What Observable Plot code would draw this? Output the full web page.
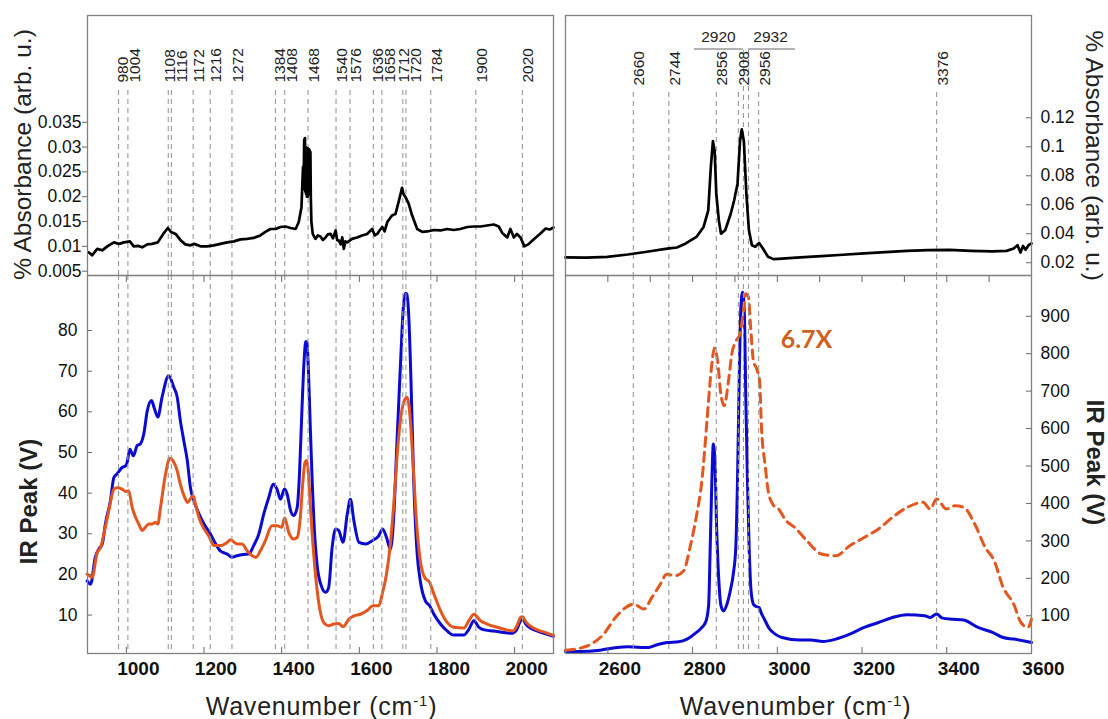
<!DOCTYPE html>
<html><head><meta charset="utf-8">
<script src="https://cdn.jsdelivr.net/npm/d3@7"></script>
<script src="https://cdn.jsdelivr.net/npm/@observablehq/plot@0.6"></script>
<style>
body{margin:0;background:#fff;}
#wrap{position:relative;width:1108px;height:719px;overflow:hidden;font-family:"Liberation Sans",Arial,sans-serif;}
#wrap svg{position:absolute;overflow:visible;}
</style></head><body><div id="wrap"></div>
<script>
// ---------------- data ----------------
const peaksLeft = [980,1004,1108,1116,1172,1216,1272,1384,1408,1468,1540,1576,1636,1658,1712,1720,1784,1900,2020];
const peaksRight = [2660,2744,2856,2908,2920,2932,2956,3376];
const peaksRightBarred = [2920,2932];

const xTicksLeft = [1000,1200,1400,1600,1800,2000];
const xTicksLeftTop = [1000,1200,1400,1600,1800,2000];
const xTicksRight = [2600,2800,3000,3200,3400,3600];
const xTicksRightTop = [2600,2700,2800,2900,3000,3100,3200,3300,3400,3500];
const yTicksAbsLeft = [0.005,0.01,0.015,0.02,0.025,0.03,0.035];
const yTicksAbsRight = [0.02,0.04,0.06,0.08,0.1,0.12];
const yTicksIrLeft = [10,20,30,40,50,60,70,80];
const yTicksIrRight = [100,200,300,400,500,600,700,800,900];

// top-left absorbance (black)
const absLeft = [[903,0.0088],[912,0.0082],[925,0.0095],[938,0.0092],[951,0.0100],[968,0.0108],[981,0.0105],[994,0.0108],[1009,0.0110],[1019,0.0100],[1030,0.0101],[1041,0.0098],[1054,0.0104],[1066,0.0105],[1081,0.0108],[1095,0.0125],[1107,0.0137],[1115,0.0129],[1127,0.0125],[1140,0.0112],[1152,0.0104],[1165,0.0102],[1175,0.0105],[1191,0.0100],[1208,0.0100],[1225,0.0102],[1242,0.0105],[1260,0.0108],[1277,0.0110],[1294,0.0114],[1311,0.0115],[1328,0.0117],[1345,0.0122],[1358,0.0129],[1371,0.0135],[1384,0.0135],[1397,0.0139],[1410,0.0140],[1423,0.0137],[1436,0.0135],[1444,0.0149],[1451,0.0179],[1455,0.026],[1456.5,0.0215],[1458,0.0315],[1459,0.022],[1460,0.0318],[1461,0.021],[1462,0.030],[1463,0.0205],[1464,0.0296],[1465,0.020],[1466,0.0298],[1467,0.0200],[1468,0.0297],[1469,0.0205],[1470,0.0296],[1471,0.021],[1472,0.0294],[1473,0.022],[1474,0.029],[1475,0.020],[1476.5,0.015],[1480,0.0125],[1487,0.0115],[1493,0.0122],[1500,0.0120],[1506,0.0113],[1513,0.0118],[1519,0.0124],[1526,0.0125],[1532,0.0116],[1539,0.0132],[1543,0.0112],[1547,0.0112],[1552,0.0104],[1556,0.0118],[1560,0.0095],[1564,0.0110],[1569,0.0108],[1581,0.0115],[1594,0.0118],[1607,0.0122],[1620,0.0125],[1633,0.0135],[1640,0.0122],[1646,0.0125],[1652,0.0132],[1659,0.0139],[1665,0.0130],[1672,0.0149],[1684,0.0162],[1693,0.0165],[1702,0.0192],[1710,0.0218],[1714,0.0205],[1719,0.0199],[1727,0.0186],[1736,0.0162],[1749,0.0135],[1762,0.0129],[1775,0.0130],[1792,0.0133],[1809,0.0132],[1826,0.0135],[1843,0.0133],[1860,0.0135],[1878,0.0139],[1895,0.0140],[1912,0.0140],[1929,0.0142],[1946,0.0144],[1959,0.0140],[1968,0.0127],[1981,0.0118],[1989,0.0135],[1998,0.0118],[2006,0.0125],[2015,0.0118],[2025,0.0100],[2035,0.0104],[2050,0.0115],[2065,0.0125],[2080,0.0136],[2090,0.0134],[2100,0.0138]];

// top-right absorbance (black)
const absRight = [[2500,0.0237],[2549,0.0236],[2599,0.0241],[2647,0.0257],[2692,0.0276],[2740,0.0298],[2763,0.0305],[2784,0.0333],[2809,0.0378],[2826,0.0447],[2837,0.0561],[2843,0.0858],[2848,0.1040],[2852,0.0972],[2856,0.0675],[2862,0.0492],[2867,0.0401],[2877,0.0424],[2890,0.0538],[2898,0.0629],[2906,0.0744],[2912,0.1040],[2916,0.1120],[2921,0.1040],[2927,0.0675],[2933,0.0424],[2940,0.0321],[2948,0.0310],[2957,0.0337],[2966,0.0298],[2978,0.0241],[2991,0.0225],[3011,0.0229],[3054,0.0237],[3104,0.0246],[3155,0.0255],[3205,0.0264],[3255,0.0273],[3306,0.0282],[3356,0.0287],[3407,0.0289],[3457,0.0282],[3508,0.0278],[3541,0.0282],[3558,0.0298],[3567,0.0321],[3574,0.027],[3580,0.0316],[3586,0.029],[3593,0.0321],[3600,0.0333]];

// bottom-left IR peak, blue
const irLeftBlue = [[899,18.4],[908,17.6],[920,24.2],[929,26.2],[938,27.5],[946,32.4],[959,38.1],[968,43.9],[976,44.7],[989,46.3],[998,46.7],[1002,47.5],[1009,50.8],[1018,49.2],[1028,51.7],[1036,52.1],[1045,54.6],[1054,60.3],[1065,62.8],[1071,61.2],[1081,58.7],[1092,63.6],[1109,68.9],[1122,66.1],[1131,63.6],[1139,57.9],[1148,52.9],[1157,48.0],[1165,41.4],[1174,38.1],[1187,34.9],[1200,32.4],[1217,29.9],[1230,27.5],[1242,25.8],[1260,25.0],[1272,24.2],[1285,24.6],[1302,24.9],[1315,25.0],[1328,27.1],[1341,29.9],[1354,34.9],[1367,39.0],[1378,42.2],[1388,41.0],[1397,38.5],[1407,41.0],[1414,39.8],[1423,35.7],[1431,34.5],[1440,36.5],[1446,45],[1452,60],[1458,73],[1462,77.3],[1465,77.0],[1469,70],[1474,55.4],[1479,42],[1483,33.2],[1491,22.5],[1502,17.2],[1513,15.6],[1521,16.8],[1530,26.7],[1539,31.2],[1547,30.8],[1558,27.9],[1569,34.9],[1577,38.5],[1586,33.2],[1599,27.9],[1616,27.5],[1633,28.3],[1650,29.5],[1660,31.2],[1670,29.1],[1680,26.2],[1689,34.9],[1697,52.9],[1706,71.8],[1714,86.6],[1719,89.2],[1722,89.0],[1727,84.1],[1733,67.7],[1740,43.1],[1749,25.0],[1757,18.4],[1770,13.5],[1781,12.3],[1792,10.2],[1809,7.8],[1826,6.1],[1843,5.1],[1869,5.1],[1882,6.5],[1895,8.6],[1908,7.0],[1925,6.3],[1946,6.1],[1972,5.7],[1993,5.5],[2006,6.5],[2015,8.6],[2020,9.0],[2030,7.6],[2045,6.6],[2060,6.0],[2080,5.4],[2100,4.8]];

// bottom-left IR peak, orange
const irLeftOrange = [[899,20.1],[912,19.3],[925,25.4],[934,26.7],[942,29.9],[955,35.7],[968,41.0],[976,41.3],[989,41.0],[998,40.4],[1006,40.6],[1015,36.5],[1024,34.0],[1032,32.4],[1041,30.8],[1049,31.6],[1058,32.4],[1066,32.4],[1075,32.8],[1081,32.4],[1088,36.5],[1101,44.7],[1112,48.6],[1120,48.0],[1131,45.5],[1139,42.2],[1150,39.0],[1158,37.7],[1165,38.6],[1172,39.4],[1178,37.3],[1187,34.0],[1200,31.2],[1212,29.5],[1225,27.1],[1242,27.1],[1260,27.9],[1268,28.5],[1285,27.5],[1298,27.5],[1311,25.8],[1324,24.6],[1334,24.2],[1345,25.8],[1358,28.3],[1375,32.0],[1388,32.0],[1400,31.6],[1408,33.9],[1418,30.4],[1431,28.7],[1440,29.1],[1448,34],[1454,42],[1460,47.5],[1464,48.0],[1468,46],[1472,40],[1478,30.8],[1487,20.1],[1496,12.7],[1508,8.2],[1521,7.4],[1534,7.8],[1547,7.9],[1558,7.1],[1573,9.0],[1586,9.8],[1603,10.2],[1620,11.1],[1635,12.3],[1650,12.3],[1659,15.2],[1670,20.1],[1680,27.5],[1690,39.0],[1699,51.3],[1708,59.5],[1716,62.8],[1723,63.6],[1730,59.5],[1739,46.3],[1747,33.2],[1757,23.4],[1768,19.3],[1781,18.0],[1792,15.2],[1809,11.1],[1826,8.2],[1843,7.0],[1869,6.8],[1882,8.6],[1895,10.2],[1912,8.6],[1929,7.8],[1955,7.0],[1981,6.3],[1996,6.1],[2006,7.4],[2015,9.4],[2020,9.6],[2030,8.2],[2045,7.0],[2060,6.3],[2080,5.7],[2100,5.0]];

// bottom-right IR peak, blue
const irRightBlue = [[2500,4.7],[2535,4.7],[2582,8.2],[2622,15.4],[2646,17.2],[2677,15.4],[2696,15.4],[2716,22.5],[2740,28.7],[2767,30.5],[2787,37.6],[2806,52.8],[2822,68.8],[2832,86.6],[2838,131],[2841.6,283],[2845.5,461],[2849,559],[2852.6,514],[2857,327],[2862,193],[2867,127],[2873,113],[2881,131],[2889,167],[2896,211],[2902,283],[2906,461],[2910,728],[2914,924],[2918,964],[2922,915],[2925.6,683],[2929.5,461],[2933.5,283],[2938,167],[2943.6,131],[2950,125],[2957,122],[2963,105],[2969,92],[2982,64.4],[2995,51],[3011,42],[3054,35],[3079,35],[3108,31.4],[3138,37.7],[3171,51],[3205,68.8],[3239,82.1],[3272,95.5],[3306,102.7],[3348,100],[3361,95.5],[3376,104.5],[3390,93.7],[3415,91],[3440,88.5],[3474,68.8],[3508,55.4],[3533,42],[3558,37.7],[3600,28.7]];

// bottom-right IR peak, orange (x6.7)
const irRightOrange = [[2500,8.2],[2535,13.6],[2567,28.7],[2590,51],[2618,95.5],[2637,117.8],[2661,131],[2685,117.8],[2704,149],[2724,184.6],[2739,211],[2759,207],[2779,220],[2794,283],[2810,372],[2822,461],[2834,621],[2841.6,728],[2852,815],[2859,781],[2866.7,692],[2874.6,661],[2884.8,728],[2892.6,799],[2903,835],[2912,853],[2920,915],[2925.6,960],[2932,951],[2937,871],[2943.6,781],[2951.5,759],[2958,728],[2963,594],[2971,505],[2979,430],[2991,395],[3003,385],[3020,355],[3041,336],[3070,300],[3104,265],[3138,260],[3171,287],[3205,309],[3239,332],[3272,363],[3306,389],[3344,403],[3361,385],[3376,412],[3399,385],[3420,394],[3441,389],[3466,345],[3491,282],[3512,247],[3533,176],[3558,131],[3575,82],[3592,69],[3600,91]];

// ---------------- layout / style ----------------
const FONT = '"Liberation Sans", Arial, sans-serif';
const BLUE = "#0a0ad2", ORANGE = "#e4561e", GRID = "#9a9a9a", FRAME = "#808080", TICK = "#666";
const frameW = 466, topH = 260, botH = 378;
const wrap = document.getElementById("wrap");

function place(svg, left, top) {
  svg.style.left = left + "px";
  svg.style.top = top + "px";
  wrap.appendChild(svg);
  return svg;
}
function spread(vals, k, minPx) {
  const p = vals.map(v => v * k);
  for (let it = 0; it < 200; it++) {
    for (let i = 1; i < p.length; i++) {
      const g = p[i] - p[i - 1];
      if (g < minPx) { const d = (minPx - g) / 2; p[i - 1] -= d; p[i] += d; }
    }
  }
  return p.map(x => x / k);
}
const styleBase = {background: "transparent", overflow: "visible", fontFamily: FONT, color: "#111"};
const X = d => d[0], Y = d => d[1];
const fmt = d => String(d);
const dash = {stroke: GRID, strokeDasharray: "5,4", strokeWidth: 1.1};

// ---- top-left
const kL = frameW / 1200;
const lblL = spread(peaksLeft, kL, 12).map((x, i) => ({x, t: String(peaksLeft[i])}));
place(Plot.plot({
  width: 560, height: 275, marginLeft: 87, marginRight: 7, marginTop: 15, marginBottom: 0,
  x: {domain: [900, 2100]}, y: {domain: [0.00413, 0.0565]},
  style: styleBase,
  marks: [
    Plot.ruleX(peaksLeft, {...dash, insetTop: 75}),
    Plot.line(absLeft, {x: X, y: Y, stroke: "#000", strokeWidth: 2.7, strokeLinejoin: "round"}),
    Plot.text(lblL, {x: "x", text: "t", frameAnchor: "top", rotate: -90, textAnchor: "start", dy: 67, fontSize: 15.5, fill: "#222"}),
    Plot.axisY({ticks: yTicksAbsLeft, anchor: "left", tickSize: 5, tickPadding: 1, fontSize: 17.5, tickFormat: fmt, stroke: TICK, label: null}),
    Plot.axisX({ticks: xTicksLeftTop, anchor: "bottom", tickSize: 7, tickFormat: () => "", stroke: TICK, label: null}),
    Plot.frame({stroke: FRAME, strokeWidth: 1.3}),
    Plot.text(["% Absorbance (arb. u.)"], {frameAnchor: "left", rotate: -90, textAnchor: "middle", dx: -64, dy: 9, fontSize: 24.5, fill: "#222"})
  ]
}), 0, 0);

// ---- bottom-left
place(Plot.plot({
  width: 560, height: 444, marginLeft: 87, marginRight: 7, marginTop: 0, marginBottom: 66,
  x: {domain: [900, 2100]}, y: {domain: [0.545, 93.54]},
  style: styleBase,
  marks: [
    Plot.line(irLeftBlue, {x: X, y: Y, stroke: BLUE, strokeWidth: 3, curve: "monotone-x"}),
    Plot.line(irLeftOrange, {x: X, y: Y, stroke: ORANGE, strokeWidth: 3, curve: "monotone-x"}),
    Plot.ruleX(peaksLeft, dash),
    Plot.tickX(xTicksLeft, {x: d => d, insetTop: botH - 6, stroke: TICK}),
    Plot.tickY(yTicksIrLeft, {y: d => d, insetRight: frameW - 5, stroke: TICK}),
    Plot.axisY({ticks: yTicksIrLeft, anchor: "left", tickSize: 0, tickPadding: 10, fontSize: 17.5, tickFormat: fmt, label: null}),
    Plot.axisX({ticks: xTicksLeft, anchor: "bottom", tickSize: 0, tickPadding: 8, dx: 12, fontSize: 19, fontWeight: "bold", tickFormat: fmt, label: null}),
    Plot.frame({stroke: FRAME, strokeWidth: 1.3}),
    Plot.text(["IR Peak (V)"], {frameAnchor: "left", rotate: -90, textAnchor: "middle", dx: -58, dy: 37, fontSize: 24, fontWeight: "bold", fill: "#222"}),
    Plot.text(["Wavenumber (cm-1)"], {frameAnchor: "bottom", textAnchor: "middle", lineAnchor: "middle", dy: 53, dx: 1, fontSize: 25, fill: "#222"})
  ]
}), 0, 275);

// ---- top-right
const rotR = peaksRight.filter(d => !peaksRightBarred.includes(d));
place(Plot.plot({
  width: 548, height: 275, marginLeft: 5, marginRight: 77, marginTop: 15, marginBottom: 0,
  x: {domain: [2500, 3600]}, y: {domain: [0.0112, 0.1906]},
  style: styleBase,
  marks: [
    Plot.ruleX(rotR, {...dash, insetTop: 77}),
    Plot.ruleX(peaksRightBarred, {...dash, insetTop: 35}),
    Plot.line(absRight, {x: X, y: Y, stroke: "#000", strokeWidth: 2.7, strokeLinejoin: "round"}),
    Plot.text(rotR, {x: d => d, text: d => String(d), frameAnchor: "top", rotate: -90, textAnchor: "start", dy: 70, fontSize: 15.5, fill: "#222"}),
    Plot.text([peaksRightBarred[0]], {x: d => d, text: d => String(d), frameAnchor: "top", textAnchor: "middle", dx: -25, dy: 22, lineAnchor: "middle", fontSize: 15.5, fill: "#222"}),
    Plot.text([peaksRightBarred[1]], {x: d => d, text: d => String(d), frameAnchor: "top", textAnchor: "middle", dx: 22, dy: 22, lineAnchor: "middle", fontSize: 15.5, fill: "#222"}),
    Plot.ruleY([0.1906], {x1: peaksRightBarred[0], x2: peaksRightBarred[0], insetLeft: -49, dy: 33.5, stroke: "#999", strokeWidth: 1.6}),
    Plot.ruleY([0.1906], {x1: peaksRightBarred[1], x2: peaksRightBarred[1], insetRight: -47, dy: 33.5, stroke: "#999", strokeWidth: 1.6}),
    Plot.tickY(yTicksAbsRight, {y: d => d, insetLeft: frameW - 5, stroke: TICK}),
    Plot.axisY({ticks: yTicksAbsRight, anchor: "right", tickSize: 0, tickPadding: 9, fontSize: 17.5, tickFormat: fmt, label: null}),
    Plot.axisX({ticks: xTicksRightTop, anchor: "bottom", tickSize: 7, tickFormat: () => "", stroke: TICK, label: null}),
    Plot.frame({stroke: FRAME, strokeWidth: 1.3}),
    Plot.text(["% Absorbance (arb. u.)"], {frameAnchor: "right", rotate: 90, textAnchor: "middle", dx: 62, dy: 10, fontSize: 24.5, fill: "#222"})
  ]
}), 560, 0);

// ---- bottom-right
place(Plot.plot({
  width: 548, height: 444, marginLeft: 5, marginRight: 77, marginTop: 0, marginBottom: 66,
  x: {domain: [2500, 3600]}, y: {domain: [-0.75, 1008.8]},
  style: styleBase,
  marks: [
    Plot.line(irRightBlue, {x: X, y: Y, stroke: BLUE, strokeWidth: 3, curve: "monotone-x"}),
    Plot.line(irRightOrange, {x: X, y: Y, stroke: ORANGE, strokeWidth: 3, strokeDasharray: "9,6", curve: "monotone-x"}),
    Plot.ruleX(peaksRight, dash),
    Plot.tickX(xTicksRight.slice(0, -1), {x: d => d, insetTop: botH - 6, stroke: TICK}),
    Plot.tickY(yTicksIrRight, {y: d => d, insetLeft: frameW - 5, stroke: TICK}),
    Plot.axisY({ticks: yTicksIrRight, anchor: "right", tickSize: 0, tickPadding: 9, fontSize: 17.5, tickFormat: fmt, label: null}),
    Plot.axisX({ticks: xTicksRight, anchor: "bottom", tickSize: 0, tickPadding: 8, dx: 12, fontSize: 19, fontWeight: "bold", tickFormat: fmt, label: null}),
    Plot.frame({stroke: FRAME, strokeWidth: 1.3}),
    Plot.text(["6.7X"], {frameAnchor: "top-left", dx: 241, dy: 64, textAnchor: "middle", lineAnchor: "middle", fontSize: 25, fontWeight: "bold", fontFamily: "Lato, 'Open Sans', sans-serif", fill: "#d0601f"}),
    Plot.text(["IR Peak (V)"], {frameAnchor: "right", rotate: 90, textAnchor: "middle", dx: 63, dy: -2, fontSize: 24, fontWeight: "bold", fill: "#222"}),
    Plot.text(["Wavenumber (cm-1)"], {frameAnchor: "bottom", textAnchor: "middle", lineAnchor: "middle", dy: 53, dx: -3, fontSize: 25, fill: "#222"})
  ]
}), 560, 275);

// superscript for the unit
d3.selectAll("#wrap text").each(function () {
  const t = d3.select(this);
  if (t.text() === "Wavenumber (cm-1)") {
    t.attr("letter-spacing", "0.8");
    t.text("Wavenumber (cm");
    t.append("tspan").attr("font-size", "15").attr("dy", "-0.6em").text("-1");
    t.append("tspan").attr("dy", "0.36em").attr("font-size", "25").text(")");
  }
});
</script>
</body></html>
